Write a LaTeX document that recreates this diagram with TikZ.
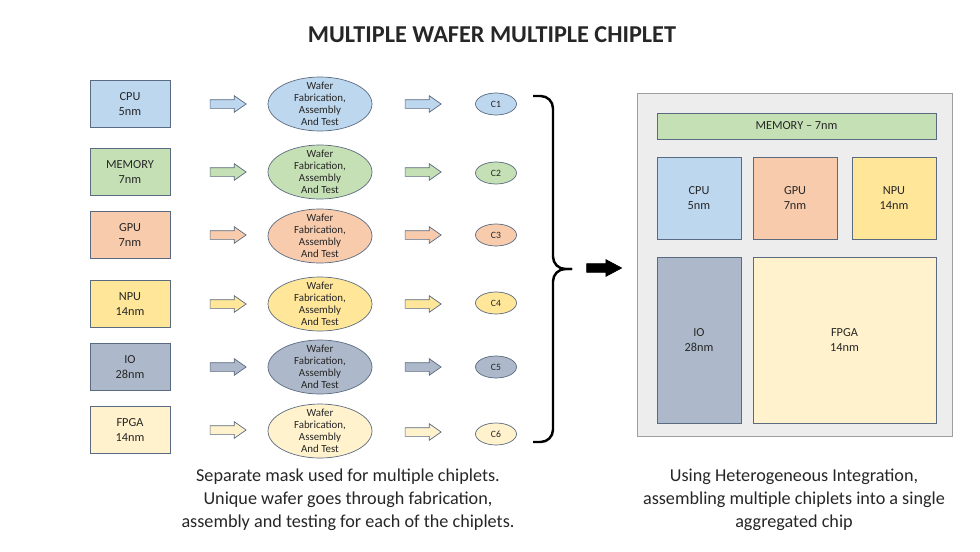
\documentclass[tikz,border=0pt]{standalone}
\usepackage{fontspec}
\setmainfont{Carlito}
\usepackage{xcolor}
\usepackage{tikz}
\usetikzlibrary{shapes.geometric,shapes.arrows}

\definecolor{cpuc}{HTML}{BDD7EE}
\definecolor{memc}{HTML}{C5E0B4}
\definecolor{gpuc}{HTML}{F8CBAD}
\definecolor{npuc}{HTML}{FFE699}
\definecolor{ioc}{HTML}{ADB9CA}
\definecolor{fpgac}{HTML}{FFF2CC}
\definecolor{edgec}{HTML}{5A6A80}
\definecolor{textc}{HTML}{262626}

\begin{document}
\begin{tikzpicture}[
    x=0.02cm, y=-0.02cm,
    every node/.style={text=textc},
    die/.style={rectangle, draw=edgec, minimum width=1.6cm, minimum height=0.94cm, align=center, font=\fontsize{7}{8.5}\selectfont},
    wafer/.style={ellipse, draw=edgec, minimum width=2.08cm, minimum height=1.08cm, inner xsep=0pt, inner ysep=-3pt, align=center, font=\fontsize{6.2}{6.9}\selectfont},
    chiplet/.style={ellipse, draw=edgec, minimum width=0.82cm, minimum height=0.44cm, inner sep=0pt, font=\fontsize{5.5}{6}\selectfont},
    flow/.style={single arrow, draw=edgec, minimum height=0.72cm, minimum width=0.32cm, inner sep=0.08cm, single arrow head extend=0.08cm, single arrow tip angle=70},
    block/.style={rectangle, draw=edgec, align=center, font=\fontsize{7}{8.5}\selectfont},
    caption/.style={align=center, font=\fontsize{10.35}{13}\selectfont}
]
\useasboundingbox (0,0) rectangle (980,551);

% Title
\node[font=\bfseries\fontsize{13.8}{16}\selectfont] (title) at (492,35) {MULTIPLE WAFER MULTIPLE CHIPLET};

% Dies
\node[die, fill=cpuc] (cpu) at (130,104) {CPU\\5nm};
\node[die, fill=memc] (mem) at (130,172) {MEMORY\\7nm};
\node[die, fill=gpuc] (gpu) at (130,235) {GPU\\7nm};
\node[die, fill=npuc] (npu) at (130,304) {NPU\\14nm};
\node[die, fill=ioc] (io) at (130,367) {IO\\28nm};
\node[die, fill=fpgac] (fpga) at (130,430) {FPGA\\14nm};

% Arrows into the fab
\node[flow, fill=cpuc] (a1) at (225,104) {};
\node[flow, fill=memc] (a2) at (225,172) {};
\node[flow, fill=gpuc] (a3) at (225,235) {};
\node[flow, fill=npuc] (a4) at (225,304) {};
\node[flow, fill=ioc] (a5) at (225,367) {};
\node[flow, fill=fpgac] (a6) at (225,430) {};

% Wafer fabrication
\node[wafer, fill=cpuc] (w1) at (320,104) {Wafer\\Fabrication,\\Assembly\\And Test};
\node[wafer, fill=memc] (w2) at (320,172) {Wafer\\Fabrication,\\Assembly\\And Test};
\node[wafer, fill=gpuc] (w3) at (320,236) {Wafer\\Fabrication,\\Assembly\\And Test};
\node[wafer, fill=npuc] (w4) at (320,304) {Wafer\\Fabrication,\\Assembly\\And Test};
\node[wafer, fill=ioc] (w5) at (320,367) {Wafer\\Fabrication,\\Assembly\\And Test};
\node[wafer, fill=fpgac] (w6) at (320,431) {Wafer\\Fabrication,\\Assembly\\And Test};

% Arrows out of the fab
\node[flow, fill=cpuc] (b1) at (420,104) {};
\node[flow, fill=memc] (b2) at (420,172) {};
\node[flow, fill=gpuc] (b3) at (420,235) {};
\node[flow, fill=npuc] (b4) at (420,304) {};
\node[flow, fill=ioc] (b5) at (420,367) {};
\node[flow, fill=fpgac] (b6) at (420,432) {};

% Chiplets
\node[chiplet, fill=cpuc] (c1) at (496,104) {C1};
\node[chiplet, fill=memc] (c2) at (496,173) {C2};
\node[chiplet, fill=gpuc] (c3) at (496,235) {C3};
\node[chiplet, fill=npuc] (c4) at (496,303) {C4};
\node[chiplet, fill=ioc] (c5) at (496,367) {C5};
\node[chiplet, fill=fpgac] (c6) at (496,434) {C6};

% Brace and arrow
\coordinate (btop) at (533,96);
\coordinate (bbot) at (533,442);
\coordinate (btip) at (572,269);
\draw[line width=1.4pt, rounded corners=7] (btop) -| (553,269) -- (btip);
\draw[line width=1.4pt, rounded corners=7] (bbot) -| (553,269) -- (btip);
\node[single arrow, fill=black, draw=black, minimum height=0.7cm, minimum width=0.32cm, inner sep=0.08cm, single arrow head extend=0.08cm, single arrow tip angle=56] (go) at (600,268) {};

% Aggregated chip
\node[rectangle, draw=gray!75, fill=black!7, minimum width=6.3cm, minimum height=6.86cm] (pkg) at (794.5,264.5) {};
\node[block, fill=memc, minimum width=5.58cm, minimum height=0.52cm] (pmem) at (796.5,126) {MEMORY -- 7nm};
\node[block, fill=cpuc, minimum width=1.68cm, minimum height=1.64cm] (pcpu) at (699,198) {CPU\\5nm};
\node[block, fill=gpuc, minimum width=1.68cm, minimum height=1.64cm] (pgpu) at (795,198) {GPU\\7nm};
\node[block, fill=npuc, minimum width=1.68cm, minimum height=1.64cm] (pnpu) at (894,198) {NPU\\14nm};
\node[block, fill=ioc, minimum width=1.68cm, minimum height=3.32cm] (pio) at (699,340) {IO\\28nm};
\node[block, fill=fpgac, minimum width=3.66cm, minimum height=3.32cm] (pfpga) at (844.5,340) {FPGA\\14nm};

% Captions
\node[caption] (capl) at (348,500) {Separate mask used for multiple chiplets.\\Unique wafer goes through fabrication,\\assembly and testing for each of the chiplets.};
\node[caption] (capr) at (794,500) {Using Heterogeneous Integration,\\assembling multiple chiplets into a single\\aggregated chip};

\end{tikzpicture}
\end{document}
